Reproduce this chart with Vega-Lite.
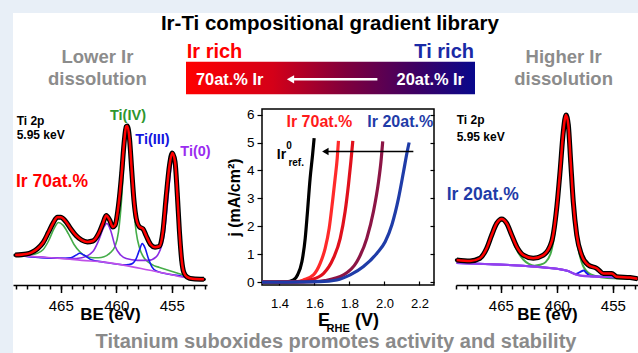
{
  "$schema": "https://vega.github.io/schema/vega-lite/v6.json",
  "background": "white",
  "padding": 0,
  "autosize": {"type": "pad"},
  "config": {
    "view": {"stroke": null},
    "font": "Liberation Sans",
    "axis": {"grid": false, "domainColor": "#000", "tickColor": "#000", "labelColor": "#000", "titleColor": "#000", "labelFont": "Liberation Sans", "titleFont": "Liberation Sans"}
  },
  "spacing": 0,
  "bounds": "flush",
  "hconcat": [
    {"width": 13, "height": 353, "view": {"fill": "#e8eff7", "stroke": null}, "data": {"values": []}, "mark": "text"},
    {
      "spacing": 0,
      "bounds": "flush",
      "vconcat": [
        {"width": 625, "height": 13, "view": {"fill": "#e8eff7", "stroke": null}, "data": {"values": []}, "mark": "text"},
        {
          "width": 625, "height": 96,
          "layer": [
            {
              "data": {"values": [{"x": 27.68, "x2": 73.92, "y": 50.7, "y2": 84.7}]},
              "mark": {"type": "rect", "stroke": null, "fill": {"gradient": "linear", "x1": 0, "y1": 0, "x2": 1, "y2": 0, "stops": [{"offset": 0, "color": "#ff0000"}, {"offset": 0.3, "color": "#d40018"}, {"offset": 0.55, "color": "#80003c"}, {"offset": 0.8, "color": "#3c0064"}, {"offset": 1, "color": "#08088c"}]}},
              "encoding": {
                "x": {"field": "x", "type": "quantitative", "scale": {"domain": [0, 100], "nice": false, "zero": false}, "axis": null},
                "x2": {"field": "x2"},
                "y": {"field": "y", "type": "quantitative", "scale": {"domain": [0, 100], "reverse": true, "nice": false, "zero": false}, "axis": null},
                "y2": {"field": "y2"}
              }
            },
            {
              "data": {"values": [{"x": 50.7, "y": 17.5, "t": "Ir-Ti compositional gradient library"}]},
              "mark": {"type": "text", "fontWeight": "bold", "fontSize": 20.5, "color": "#000", "baseline": "alphabetic", "align": "center"},
              "encoding": {"x": {"field": "x", "type": "quantitative"}, "y": {"field": "y", "type": "quantitative"}, "text": {"field": "t"}}
            },
            {
              "data": {"values": [{"x": 13.5, "y": 52.4, "t": "Lower Ir"}, {"x": 13.5, "y": 75, "t": "dissolution"}, {"x": 88.1, "y": 52.4, "t": "Higher Ir"}, {"x": 88.1, "y": 75, "t": "dissolution"}]},
              "mark": {"type": "text", "fontWeight": "bold", "fontSize": 18.5, "color": "#8c8c8c", "baseline": "alphabetic", "align": "center"},
              "encoding": {"x": {"field": "x", "type": "quantitative"}, "y": {"field": "y", "type": "quantitative"}, "text": {"field": "t"}}
            },
            {
              "data": {"values": [{"x": 27.8, "y": 47.2, "t": "Ir rich"}]},
              "mark": {"type": "text", "fontWeight": "bold", "fontSize": 20, "color": "#ff0000", "baseline": "alphabetic", "align": "left"},
              "encoding": {"x": {"field": "x", "type": "quantitative"}, "y": {"field": "y", "type": "quantitative"}, "text": {"field": "t"}}
            },
            {
              "data": {"values": [{"x": 73.76, "y": 47.2, "t": "Ti rich"}]},
              "mark": {"type": "text", "fontWeight": "bold", "fontSize": 20, "color": "#1a2aa6", "baseline": "alphabetic", "align": "right"},
              "encoding": {"x": {"field": "x", "type": "quantitative"}, "y": {"field": "y", "type": "quantitative"}, "text": {"field": "t"}}
            },
            {
              "data": {"values": [{"x": 29.28, "y": 75, "t": "70at.% Ir"}]},
              "mark": {"type": "text", "fontWeight": "bold", "fontSize": 16.4, "color": "#ffffff", "baseline": "alphabetic", "align": "left"},
              "encoding": {"x": {"field": "x", "type": "quantitative"}, "y": {"field": "y", "type": "quantitative"}, "text": {"field": "t"}}
            },
            {
              "data": {"values": [{"x": 72.16, "y": 75, "t": "20at.% Ir"}]},
              "mark": {"type": "text", "fontWeight": "bold", "fontSize": 16.4, "color": "#ffffff", "baseline": "alphabetic", "align": "right"},
              "encoding": {"x": {"field": "x", "type": "quantitative"}, "y": {"field": "y", "type": "quantitative"}, "text": {"field": "t"}}
            },
            {
              "data": {"values": [{"x": 44.8, "x2": 58.3, "y": 69.1}]},
              "mark": {"type": "rule", "color": "#ffffff", "strokeWidth": 2.5},
              "encoding": {"x": {"field": "x", "type": "quantitative"}, "x2": {"field": "x2"}, "y": {"field": "y", "type": "quantitative"}}
            },
            {
              "data": {"values": [{"x": 44.4, "y": 69.1}]},
              "mark": {"type": "point", "shape": "triangle-left", "filled": true, "color": "#ffffff", "opacity": 1, "size": 70},
              "encoding": {"x": {"field": "x", "type": "quantitative"}, "y": {"field": "y", "type": "quantitative"}}
            }
          ]
        },
        {
          "spacing": 22,
          "bounds": "flush",
          "resolve": {"scale": {"color": "independent"}},
          "hconcat": [
            {
              "width": 194, "height": 176,
              "data": {"values": [
                {"s":"fit","be":469.1,"i":17},{"s":"fit","be":468.1,"i":17.6},{"s":"fit","be":467.6,"i":18.6},{"s":"fit","be":467.1,"i":20.6},{"s":"fit","be":466.6,"i":24},{"s":"fit","be":466.1,"i":30},{"s":"fit","be":465.7,"i":35},{"s":"fit","be":465.3,"i":38.5},{"s":"fit","be":465.0,"i":38.5},{"s":"fit","be":464.6,"i":36.5},{"s":"fit","be":464.1,"i":32},{"s":"fit","be":463.6,"i":28},{"s":"fit","be":463.1,"i":25.5},{"s":"fit","be":462.6,"i":24.5},{"s":"fit","be":462.1,"i":25},{"s":"fit","be":461.6,"i":29},{"s":"fit","be":461.2,"i":35},{"s":"fit","be":460.9,"i":39.5},{"s":"fit","be":460.6,"i":37},{"s":"fit","be":460.3,"i":33},{"s":"fit","be":460.1,"i":34},{"s":"fit","be":459.8,"i":45},{"s":"fit","be":459.5,"i":64},{"s":"fit","be":459.3,"i":80},{"s":"fit","be":459.1,"i":90},{"s":"fit","be":459.0,"i":90.4},{"s":"fit","be":458.8,"i":83},{"s":"fit","be":458.6,"i":65},{"s":"fit","be":458.4,"i":48},{"s":"fit","be":458.2,"i":38},{"s":"fit","be":457.9,"i":33},{"s":"fit","be":457.6,"i":32},{"s":"fit","be":457.3,"i":28},{"s":"fit","be":456.9,"i":23},{"s":"fit","be":456.5,"i":21.5},{"s":"fit","be":456.1,"i":22},{"s":"fit","be":455.8,"i":30},{"s":"fit","be":455.5,"i":50},{"s":"fit","be":455.2,"i":68},{"s":"fit","be":454.95,"i":75},{"s":"fit","be":454.7,"i":70},{"s":"fit","be":454.5,"i":52},{"s":"fit","be":454.3,"i":30},{"s":"fit","be":454.1,"i":14},{"s":"fit","be":453.9,"i":7},{"s":"fit","be":453.6,"i":4.5},{"s":"fit","be":453.1,"i":3.5},{"s":"fit","be":452.1,"i":3.2},
                {"s":"Ti(IV)","be":469.1,"i":17},{"s":"Ti(IV)","be":468.1,"i":16.8},{"s":"Ti(IV)","be":467.1,"i":18},{"s":"Ti(IV)","be":466.6,"i":20},{"s":"Ti(IV)","be":466.1,"i":25},{"s":"Ti(IV)","be":465.6,"i":32},{"s":"Ti(IV)","be":465.2,"i":35.5},{"s":"Ti(IV)","be":464.8,"i":34},{"s":"Ti(IV)","be":464.3,"i":29},{"s":"Ti(IV)","be":463.8,"i":23},{"s":"Ti(IV)","be":463.3,"i":19},{"s":"Ti(IV)","be":462.8,"i":16.5},{"s":"Ti(IV)","be":462.1,"i":15.5},{"s":"Ti(IV)","be":461.6,"i":15.5},{"s":"Ti(IV)","be":461.1,"i":16},{"s":"Ti(IV)","be":460.6,"i":18},{"s":"Ti(IV)","be":460.1,"i":22},{"s":"Ti(IV)","be":459.8,"i":30},{"s":"Ti(IV)","be":459.5,"i":50},{"s":"Ti(IV)","be":459.3,"i":72},{"s":"Ti(IV)","be":459.1,"i":88},{"s":"Ti(IV)","be":459.0,"i":89},{"s":"Ti(IV)","be":458.8,"i":80},{"s":"Ti(IV)","be":458.6,"i":60},{"s":"Ti(IV)","be":458.4,"i":42},{"s":"Ti(IV)","be":458.2,"i":30},{"s":"Ti(IV)","be":457.9,"i":21},{"s":"Ti(IV)","be":457.5,"i":15.5},{"s":"Ti(IV)","be":457.1,"i":13},{"s":"Ti(IV)","be":456.6,"i":11},{"s":"Ti(IV)","be":456.1,"i":10},{"s":"Ti(IV)","be":455.1,"i":8},{"s":"Ti(IV)","be":454.1,"i":6},{"s":"Ti(IV)","be":453.1,"i":4},{"s":"Ti(IV)","be":452.1,"i":3.5},
                {"s":"Ti(0)","be":469.1,"i":17},{"s":"Ti(0)","be":466.1,"i":15.5},{"s":"Ti(0)","be":464.1,"i":15},{"s":"Ti(0)","be":463.1,"i":15.5},{"s":"Ti(0)","be":462.1,"i":19},{"s":"Ti(0)","be":461.6,"i":25},{"s":"Ti(0)","be":461.1,"i":33},{"s":"Ti(0)","be":460.85,"i":35},{"s":"Ti(0)","be":460.5,"i":31},{"s":"Ti(0)","be":460.1,"i":22},{"s":"Ti(0)","be":459.6,"i":17},{"s":"Ti(0)","be":459.1,"i":15},{"s":"Ti(0)","be":458.1,"i":14},{"s":"Ti(0)","be":457.1,"i":14},{"s":"Ti(0)","be":456.4,"i":16},{"s":"Ti(0)","be":456.1,"i":19},{"s":"Ti(0)","be":455.7,"i":28},{"s":"Ti(0)","be":455.4,"i":45},{"s":"Ti(0)","be":455.1,"i":65},{"s":"Ti(0)","be":454.85,"i":74},{"s":"Ti(0)","be":454.6,"i":62},{"s":"Ti(0)","be":454.4,"i":40},{"s":"Ti(0)","be":454.2,"i":20},{"s":"Ti(0)","be":454.0,"i":9},{"s":"Ti(0)","be":453.7,"i":5},{"s":"Ti(0)","be":453.1,"i":3.6},{"s":"Ti(0)","be":452.1,"i":3.2},
                {"s":"Ti(III)","be":469.1,"i":17},{"s":"Ti(III)","be":465.1,"i":15.2},{"s":"Ti(III)","be":464.1,"i":15.5},{"s":"Ti(III)","be":463.6,"i":17},{"s":"Ti(III)","be":463.3,"i":18},{"s":"Ti(III)","be":462.9,"i":17},{"s":"Ti(III)","be":462.3,"i":14.5},{"s":"Ti(III)","be":461.1,"i":13},{"s":"Ti(III)","be":459.1,"i":11.5},{"s":"Ti(III)","be":458.6,"i":12},{"s":"Ti(III)","be":458.2,"i":15},{"s":"Ti(III)","be":457.9,"i":20},{"s":"Ti(III)","be":457.65,"i":23.5},{"s":"Ti(III)","be":457.4,"i":21},{"s":"Ti(III)","be":457.1,"i":15},{"s":"Ti(III)","be":456.8,"i":10.5},{"s":"Ti(III)","be":456.4,"i":8},{"s":"Ti(III)","be":455.6,"i":6.5},{"s":"Ti(III)","be":454.1,"i":5},{"s":"Ti(III)","be":453.1,"i":3.6},{"s":"Ti(III)","be":452.1,"i":3.2},
                {"s":"bg","be":469.1,"i":17},{"s":"bg","be":467.1,"i":16},{"s":"bg","be":465.1,"i":15.2},{"s":"bg","be":463.1,"i":14},{"s":"bg","be":461.1,"i":13},{"s":"bg","be":459.1,"i":11},{"s":"bg","be":457.1,"i":8.5},{"s":"bg","be":455.1,"i":6},{"s":"bg","be":454.1,"i":4.5},{"s":"bg","be":453.1,"i":3.5},{"s":"bg","be":452.1,"i":3.2}
              ]},
              "resolve": {"axis": {"x": "independent"}},
              "layer": [
                {
                  "transform": [{"filter": "datum.s !== 'fit'"}],
                  "mark": {"type": "line", "interpolate": "monotone", "strokeWidth": 1.6},
                  "encoding": {
                    "x": {"field": "be", "type": "quantitative", "scale": {"domain": [451.82, 469.3], "reverse": true, "nice": false, "zero": false},
                          "axis": {"orient": "bottom", "values": [452,453,454,455,456,457,458,459,460,461,462,463,464,465,466,467,468,469], "labels": false, "tickSize": 4, "tickWidth": 1.5, "domain": true, "domainWidth": 1.5, "title": null}},
                    "y": {"field": "i", "type": "quantitative", "scale": {"domain": [0, 100], "nice": false, "zero": false}, "axis": null},
                    "color": {"field": "s", "type": "nominal", "scale": {"domain": ["bg", "Ti(III)", "Ti(0)", "Ti(IV)"], "range": ["#c050e8", "#1818f0", "#8a2be2", "#45ad4a"]}, "legend": null}
                  }
                },
                {
                  "transform": [{"filter": "datum.s === 'fit'"}],
                  "mark": {"type": "line", "interpolate": "monotone", "strokeWidth": 5, "color": "#000"},
                  "encoding": {
                    "x": {"field": "be", "type": "quantitative", "axis": {"orient": "bottom", "values": [465, 460, 455], "tickSize": 7.5, "tickWidth": 1.5, "domain": false, "labelFontSize": 15, "labelPadding": 6, "title": "BE (eV)", "titleFontSize": 17, "titleFontWeight": "bold", "titlePadding": -7}},
                    "y": {"field": "i", "type": "quantitative", "axis": null}
                  }
                },
                {
                  "transform": [{"filter": "datum.s === 'fit'"}],
                  "mark": {"type": "point", "filled": true, "color": "#000", "opacity": 1, "size": 14},
                  "encoding": {"x": {"field": "be", "type": "quantitative", "axis": null}, "y": {"field": "i", "type": "quantitative", "axis": null}}
                },
                {
                  "transform": [{"filter": "datum.s === 'fit'"}],
                  "mark": {"type": "line", "interpolate": "monotone", "strokeWidth": 2.5, "color": "#ff0000"},
                  "encoding": {"x": {"field": "be", "type": "quantitative", "axis": null}, "y": {"field": "i", "type": "quantitative", "axis": null}}
                },
                {
                  "data": {"values": [{"be": 468.97, "i": 93.3, "t": "Ti 2p"}, {"be": 468.97, "i": 85.2, "t": "5.95 keV"}]},
                  "mark": {"type": "text", "fontWeight": "bold", "fontSize": 12, "color": "#000", "align": "left", "baseline": "middle"},
                  "encoding": {"x": {"field": "be", "type": "quantitative", "axis": null}, "y": {"field": "i", "type": "quantitative", "axis": null}, "text": {"field": "t"}}
                },
                {
                  "data": {"values": [{"be": 469.03, "i": 58.7, "t": "Ir 70at.%"}]},
                  "mark": {"type": "text", "fontWeight": "bold", "fontSize": 17.5, "color": "#ff0000", "align": "left", "baseline": "middle"},
                  "encoding": {"x": {"field": "be", "type": "quantitative", "axis": null}, "y": {"field": "i", "type": "quantitative", "axis": null}, "text": {"field": "t"}}
                },
                {
                  "data": {"values": [{"be": 458.94, "i": 96, "t": "Ti(IV)"}]},
                  "mark": {"type": "text", "fontWeight": "bold", "fontSize": 14.5, "color": "#2e962e", "align": "center", "baseline": "middle"},
                  "encoding": {"x": {"field": "be", "type": "quantitative", "axis": null}, "y": {"field": "i", "type": "quantitative", "axis": null}, "text": {"field": "t"}}
                },
                {
                  "data": {"values": [{"be": 456.73, "i": 82.4, "t": "Ti(III)"}]},
                  "mark": {"type": "text", "fontWeight": "bold", "fontSize": 14.5, "color": "#1414e0", "align": "center", "baseline": "middle"},
                  "encoding": {"x": {"field": "be", "type": "quantitative", "axis": null}, "y": {"field": "i", "type": "quantitative", "axis": null}, "text": {"field": "t"}}
                },
                {
                  "data": {"values": [{"be": 452.86, "i": 75.7, "t": "Ti(0)"}]},
                  "mark": {"type": "text", "fontWeight": "bold", "fontSize": 14.5, "color": "#9a2cf0", "align": "center", "baseline": "middle"},
                  "encoding": {"x": {"field": "be", "type": "quantitative", "axis": null}, "y": {"field": "i", "type": "quantitative", "axis": null}, "text": {"field": "t"}}
                }
              ]
            },
            {"width": 11, "height": 176, "data": {"values": []}, "mark": "text"},
            {
              "width": 172, "height": 176,
              "view": {"stroke": "#000", "strokeWidth": 1.5},
              "resolve": {"axis": {"x": "independent", "y": "independent"}},
              "layer": [
                {
                  "data": {"values": [
                    {"s":"ref","e":1.3,"j":0},{"s":"ref","e":1.44,"j":0.01},{"s":"ref","e":1.48,"j":0.08},{"s":"ref","e":1.503,"j":0.26},{"s":"ref","e":1.528,"j":0.73},{"s":"ref","e":1.547,"j":1.57},{"s":"ref","e":1.56,"j":2.53},{"s":"ref","e":1.575,"j":3.72},{"s":"ref","e":1.589,"j":4.56},{"s":"ref","e":1.598,"j":5.16},
                    {"s":"Ir70","e":1.3,"j":0},{"s":"Ir70","e":1.5,"j":0.02},{"s":"Ir70","e":1.537,"j":0.08},{"s":"Ir70","e":1.594,"j":0.26},{"s":"Ir70","e":1.633,"j":0.68},{"s":"Ir70","e":1.661,"j":1.21},{"s":"Ir70","e":1.684,"j":1.93},{"s":"Ir70","e":1.703,"j":2.89},{"s":"Ir70","e":1.718,"j":3.72},{"s":"Ir70","e":1.73,"j":4.44},{"s":"Ir70","e":1.737,"j":5.06},
                    {"s":"b","e":1.3,"j":0},{"s":"b","e":1.54,"j":0.02},{"s":"b","e":1.575,"j":0.08},{"s":"b","e":1.651,"j":0.31},{"s":"b","e":1.708,"j":0.86},{"s":"b","e":1.747,"j":1.57},{"s":"b","e":1.775,"j":2.53},{"s":"b","e":1.794,"j":3.48},{"s":"b","e":1.808,"j":4.32},{"s":"b","e":1.819,"j":5.06},
                    {"s":"c","e":1.3,"j":0},{"s":"c","e":1.6,"j":0.02},{"s":"c","e":1.66,"j":0.06},{"s":"c","e":1.766,"j":0.26},{"s":"c","e":1.842,"j":0.73},{"s":"c","e":1.899,"j":1.57},{"s":"c","e":1.937,"j":2.53},{"s":"c","e":1.966,"j":3.6},{"s":"c","e":1.98,"j":4.32},{"s":"c","e":1.99,"j":5.04},
                    {"s":"Ir20","e":1.3,"j":0},{"s":"Ir20","e":1.63,"j":0.02},{"s":"Ir20","e":1.728,"j":0.08},{"s":"Ir20","e":1.804,"j":0.26},{"s":"Ir20","e":1.88,"j":0.56},{"s":"Ir20","e":1.957,"j":1.04},{"s":"Ir20","e":2.004,"j":1.45},{"s":"Ir20","e":2.042,"j":2.05},{"s":"Ir20","e":2.08,"j":3.0},{"s":"Ir20","e":2.109,"j":3.96},{"s":"Ir20","e":2.13,"j":4.68},{"s":"Ir20","e":2.141,"j":5.0}
                  ]},
                  "mark": {"type": "line", "interpolate": "monotone", "strokeWidth": 3.2},
                  "encoding": {
                    "x": {"field": "e", "type": "quantitative", "scale": {"domain": [1.3, 2.283], "nice": false, "zero": false},
                          "axis": {"orient": "bottom", "values": [1.4, 1.6, 1.8, 2.0, 2.2], "format": ".1f", "domain": false, "tickSize": -4, "tickWidth": 1.2, "labelFontSize": 13, "labelPadding": 16, "title": "E\u00a0\u00a0\u00a0\u00a0\u00a0(V)", "titleFontSize": 18, "titleFontWeight": "bold", "titlePadding": 1}},
                    "y": {"field": "j", "type": "quantitative", "scale": {"domain": [-0.1, 6.2], "nice": false, "zero": false},
                          "axis": {"orient": "left", "values": [0, 1, 2, 3, 4, 5, 6], "domain": false, "tickSize": 5, "tickWidth": 1.2, "labelFontSize": 13.5, "labelPadding": 3, "title": "j (mA/cm²)", "titleFontSize": 16, "titleFontWeight": "bold", "titlePadding": 4}},
                    "color": {"field": "s", "type": "nominal", "scale": {"domain": ["ref", "Ir70", "b", "c", "Ir20"], "range": ["#000000", "#ff2a2a", "#e0101c", "#8c1545", "#1f3ca8"]}, "legend": null}
                  }
                },
                {
                  "data": {"values": [{"e": 2.165, "e2": 1.668, "j": 4.68}]},
                  "mark": {"type": "rule", "color": "#000", "strokeWidth": 1.5},
                  "encoding": {
                    "x": {"field": "e", "type": "quantitative", "axis": null},
                    "x2": {"field": "e2"},
                    "y": {"field": "j", "type": "quantitative", "axis": {"orient": "right", "values": [0, 1, 2, 3, 4, 5, 6], "labels": false, "domain": false, "tickSize": -4, "tickWidth": 1.2, "title": null}}
                  }
                },
                {
                  "data": {"values": [{"e": 1.662, "j": 4.68}]},
                  "mark": {"type": "point", "shape": "triangle-left", "filled": true, "color": "#000", "opacity": 1, "size": 55},
                  "encoding": {"x": {"field": "e", "type": "quantitative", "axis": null}, "y": {"field": "j", "type": "quantitative", "axis": null}}
                },
                {
                  "data": {"values": [{"e": 1.628, "j": 5.72, "t": "Ir 70at.%"}]},
                  "mark": {"type": "text", "fontWeight": "bold", "fontSize": 16, "color": "#ff1a1a", "align": "center", "baseline": "middle"},
                  "encoding": {"x": {"field": "e", "type": "quantitative", "axis": null}, "y": {"field": "j", "type": "quantitative", "axis": null}, "text": {"field": "t"}}
                },
                {
                  "data": {"values": [{"e": 2.09, "j": 5.72, "t": "Ir 20at.%"}]},
                  "mark": {"type": "text", "fontWeight": "bold", "fontSize": 16, "color": "#1f3ca8", "align": "center", "baseline": "middle"},
                  "encoding": {"x": {"field": "e", "type": "quantitative", "axis": null}, "y": {"field": "j", "type": "quantitative", "axis": null}, "text": {"field": "t"}}
                },
                {
                  "data": {"values": [{"e": 1.411, "j": 4.56, "t": "Ir"}]},
                  "mark": {"type": "text", "fontWeight": "bold", "fontSize": 14, "color": "#000", "align": "center", "baseline": "middle"},
                  "encoding": {"x": {"field": "e", "type": "quantitative", "axis": null}, "y": {"field": "j", "type": "quantitative", "axis": null}, "text": {"field": "t"}}
                },
                {
                  "data": {"values": [{"e": 1.438, "j": 4.87, "t": "0"}, {"e": 1.451, "j": 4.26, "t": "ref."}]},
                  "mark": {"type": "text", "fontWeight": "bold", "fontSize": 10, "color": "#000", "align": "left", "baseline": "middle"},
                  "encoding": {"x": {"field": "e", "type": "quantitative", "axis": null}, "y": {"field": "j", "type": "quantitative", "axis": null}, "text": {"field": "t"}}
                },
                {
                  "data": {"values": [{"e": 1.735, "j": -1.69, "t": "RHE"}]},
                  "mark": {"type": "text", "fontWeight": "bold", "fontSize": 11, "color": "#000", "align": "center", "baseline": "middle"},
                  "encoding": {"x": {"field": "e", "type": "quantitative", "axis": null}, "y": {"field": "j", "type": "quantitative", "axis": null}, "text": {"field": "t"}}
                },
                {
                  "data": {"values": [{"e": 1.723, "j": -2.355, "t": "Titanium suboxides promotes activity and stability"}]},
                  "mark": {"type": "text", "fontWeight": "bold", "fontSize": 20, "color": "#8a8a8a", "align": "center", "baseline": "alphabetic"},
                  "encoding": {"x": {"field": "e", "type": "quantitative", "axis": null}, "y": {"field": "j", "type": "quantitative", "axis": null}, "text": {"field": "t"}}
                }
              ]
            },
            {
              "width": 182, "height": 176,
              "data": {"values": [
                {"s":"fit","be":468.94,"i":14.2},{"s":"fit","be":467.75,"i":13.6},{"s":"fit","be":466.86,"i":15.2},{"s":"fit","be":466.26,"i":20.8},{"s":"fit","be":465.81,"i":28.4},{"s":"fit","be":465.37,"i":35},{"s":"fit","be":464.92,"i":37.5},{"s":"fit","be":464.47,"i":35},{"s":"fit","be":464.03,"i":28.4},{"s":"fit","be":463.58,"i":21.8},{"s":"fit","be":462.99,"i":17},{"s":"fit","be":462.1,"i":15.2},{"s":"fit","be":461.2,"i":17},{"s":"fit","be":460.46,"i":24.6},{"s":"fit","be":460.01,"i":43.6},{"s":"fit","be":459.71,"i":64.4},{"s":"fit","be":459.42,"i":87.1},{"s":"fit","be":459.18,"i":96.6},{"s":"fit","be":458.97,"i":90.9},{"s":"fit","be":458.76,"i":70},{"s":"fit","be":458.53,"i":47.3},{"s":"fit","be":458.22,"i":28.4},{"s":"fit","be":457.78,"i":17},{"s":"fit","be":457.19,"i":11.4},{"s":"fit","be":456.44,"i":9.5},{"s":"fit","be":455.85,"i":6.6},{"s":"fit","be":455.1,"i":6.6},{"s":"fit","be":454.65,"i":4.7},{"s":"fit","be":453.46,"i":4.2},{"s":"fit","be":452.8,"i":3.6},
                {"s":"Ti(IV)","be":468.94,"i":14.2},{"s":"Ti(IV)","be":467.75,"i":13.6},{"s":"Ti(IV)","be":466.86,"i":14.5},{"s":"Ti(IV)","be":466.26,"i":20},{"s":"Ti(IV)","be":465.81,"i":27.5},{"s":"Ti(IV)","be":465.37,"i":34},{"s":"Ti(IV)","be":464.92,"i":36.5},{"s":"Ti(IV)","be":464.47,"i":34},{"s":"Ti(IV)","be":464.03,"i":27},{"s":"Ti(IV)","be":463.58,"i":20},{"s":"Ti(IV)","be":463.0,"i":14.5},{"s":"Ti(IV)","be":462.5,"i":12},{"s":"Ti(IV)","be":462.0,"i":11},{"s":"Ti(IV)","be":461.5,"i":11.5},{"s":"Ti(IV)","be":461.0,"i":13},{"s":"Ti(IV)","be":460.5,"i":19},{"s":"Ti(IV)","be":460.01,"i":40},{"s":"Ti(IV)","be":459.71,"i":62},{"s":"Ti(IV)","be":459.42,"i":85},{"s":"Ti(IV)","be":459.18,"i":95},{"s":"Ti(IV)","be":458.97,"i":89},{"s":"Ti(IV)","be":458.76,"i":68},{"s":"Ti(IV)","be":458.53,"i":45},{"s":"Ti(IV)","be":458.22,"i":26},{"s":"Ti(IV)","be":457.78,"i":13},{"s":"Ti(IV)","be":457.2,"i":7},{"s":"Ti(IV)","be":456.5,"i":5},{"s":"Ti(IV)","be":455.5,"i":4},{"s":"Ti(IV)","be":452.8,"i":3.4},
                {"s":"Ti(III)","be":468.94,"i":12.5},{"s":"Ti(III)","be":460,"i":9.3},{"s":"Ti(III)","be":459,"i":8},{"s":"Ti(III)","be":458.3,"i":6.3},{"s":"Ti(III)","be":457.9,"i":7.5},{"s":"Ti(III)","be":457.6,"i":8.2},{"s":"Ti(III)","be":457.3,"i":6.5},{"s":"Ti(III)","be":457,"i":5},{"s":"Ti(III)","be":456,"i":4.7},{"s":"Ti(III)","be":452.8,"i":3.8},
                {"s":"Ti(0)","be":468.94,"i":12.5},{"s":"Ti(0)","be":460,"i":9.3},{"s":"Ti(0)","be":459,"i":8},{"s":"Ti(0)","be":458.3,"i":6},{"s":"Ti(0)","be":457,"i":5},{"s":"Ti(0)","be":456,"i":4.7},{"s":"Ti(0)","be":455.5,"i":4.8},{"s":"Ti(0)","be":455.1,"i":6},{"s":"Ti(0)","be":454.7,"i":5.2},{"s":"Ti(0)","be":454.2,"i":4.2},{"s":"Ti(0)","be":452.8,"i":3.6},
                {"s":"bg","be":468.94,"i":12.5},{"s":"bg","be":466,"i":11.8},{"s":"bg","be":463,"i":11},{"s":"bg","be":461,"i":10},{"s":"bg","be":460,"i":9.3},{"s":"bg","be":459,"i":8},{"s":"bg","be":458.3,"i":6},{"s":"bg","be":457.5,"i":5},{"s":"bg","be":456,"i":4.7},{"s":"bg","be":454,"i":4},{"s":"bg","be":452.8,"i":3.6}
              ]},
              "resolve": {"axis": {"x": "independent"}},
              "layer": [
                {
                  "transform": [{"filter": "datum.s !== 'fit'"}],
                  "mark": {"type": "line", "interpolate": "monotone", "strokeWidth": 2},
                  "encoding": {
                    "x": {"field": "be", "type": "quantitative", "scale": {"domain": [452.75, 469], "reverse": true, "nice": false, "zero": false},
                          "axis": {"orient": "bottom", "values": [453,454,455,456,457,458,459,460,461,462,463,464,465,466,467,468,469], "labels": false, "tickSize": 4, "tickWidth": 1.5, "domain": true, "domainWidth": 1.5, "title": null}},
                    "y": {"field": "i", "type": "quantitative", "scale": {"domain": [0, 100], "nice": false, "zero": false}, "axis": null},
                    "color": {"field": "s", "type": "nominal", "scale": {"domain": ["bg", "Ti(III)", "Ti(0)", "Ti(IV)"], "range": ["#9040f0", "#1818f0", "#c040e0", "#45ad4a"]}, "legend": null}
                  }
                },
                {
                  "transform": [{"filter": "datum.s === 'fit'"}],
                  "mark": {"type": "line", "interpolate": "monotone", "strokeWidth": 5, "color": "#000"},
                  "encoding": {
                    "x": {"field": "be", "type": "quantitative", "axis": {"orient": "bottom", "values": [465, 460, 455], "tickSize": 7.5, "tickWidth": 1.5, "domain": false, "labelFontSize": 15, "labelPadding": 6, "title": "BE (eV)", "titleFontSize": 17, "titleFontWeight": "bold", "titlePadding": -7}},
                    "y": {"field": "i", "type": "quantitative", "axis": null}
                  }
                },
                {
                  "transform": [{"filter": "datum.s === 'fit'"}],
                  "mark": {"type": "point", "filled": true, "color": "#000", "opacity": 1, "size": 14},
                  "encoding": {"x": {"field": "be", "type": "quantitative", "axis": null}, "y": {"field": "i", "type": "quantitative", "axis": null}}
                },
                {
                  "transform": [{"filter": "datum.s === 'fit'"}],
                  "mark": {"type": "line", "interpolate": "monotone", "strokeWidth": 2.5, "color": "#ff0000"},
                  "encoding": {"x": {"field": "be", "type": "quantitative", "axis": null}, "y": {"field": "i", "type": "quantitative", "axis": null}}
                },
                {
                  "data": {"values": [{"be": 468.94, "i": 93.75, "t": "Ti 2p"}, {"be": 468.94, "i": 83.9, "t": "5.95 keV"}]},
                  "mark": {"type": "text", "fontWeight": "bold", "fontSize": 12, "color": "#000", "align": "left", "baseline": "middle"},
                  "encoding": {"x": {"field": "be", "type": "quantitative", "axis": null}, "y": {"field": "i", "type": "quantitative", "axis": null}, "text": {"field": "t"}}
                },
                {
                  "data": {"values": [{"be": 469.83, "i": 51.1, "t": "Ir 20at.%"}]},
                  "mark": {"type": "text", "fontWeight": "bold", "fontSize": 17.5, "color": "#1f3ca8", "align": "left", "baseline": "middle"},
                  "encoding": {"x": {"field": "be", "type": "quantitative", "axis": null}, "y": {"field": "i", "type": "quantitative", "axis": null}, "text": {"field": "t"}}
                }
              ]
            }
          ]
        }
      ]
    }
  ]
}
